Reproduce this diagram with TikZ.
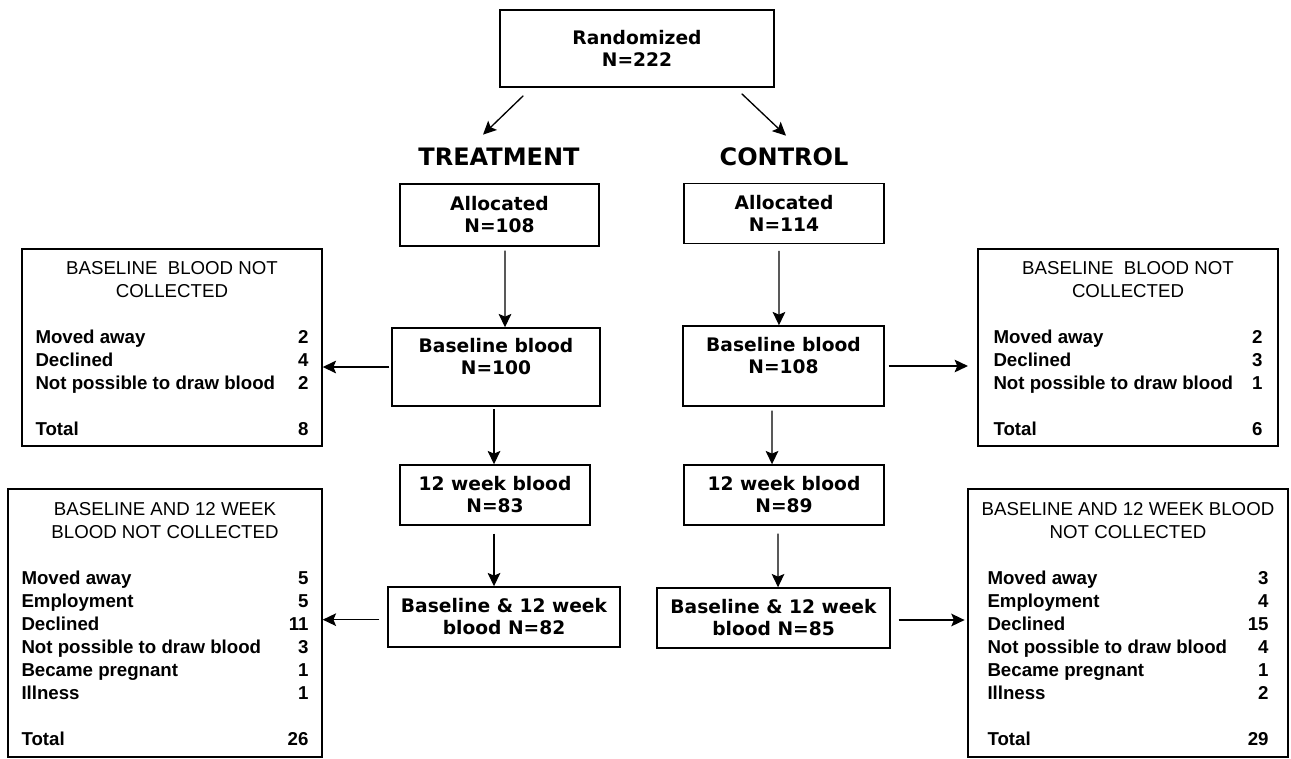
\documentclass[tikz,border=0pt]{standalone}
\usepackage{fontspec}
\setmainfont{Liberation Sans}
\newfontfamily\verdana{DejaVu Sans}
\usetikzlibrary{arrows.meta}

\tikzset{
  box/.style={draw, line width=1.1pt, align=center, inner sep=0pt,
    font=\verdana\bfseries\fontsize{14}{16.5}\selectfont},
  armhead/.style={inner sep=0pt, font=\verdana\bfseries\fontsize{18}{21}\selectfont},
  lossbox/.style={draw, line width=1.1pt, inner sep=0pt,
    font=\bfseries\fontsize{14}{17.25}\selectfont},
  arr/.style={line width=1pt, -{Stealth[length=10pt,width=9.5pt,inset=2pt]}}
}
\newcommand{\firstrow}{\rule{0pt}{16.6pt}}

\begin{document}
\begin{tikzpicture}[x=0.75pt, y=-0.75pt]
    \useasboundingbox (0,0) rectangle (1291,758);

    % Randomization
    \node[box, minimum width=205.5pt, minimum height=57.75pt] (rand) at (637,48.5) {Randomized\\N=222};
    \node[armhead] (tHead) at (499,157) {TREATMENT};
    \node[armhead] (cHead) at (784,157) {CONTROL};
    \draw[arr] ([xshift=18pt,yshift=-6pt]rand.south west) -- ([xshift=-12pt,yshift=10pt]tHead.north);
    \draw[arr] ([xshift=-24.75pt,yshift=-4.5pt]rand.south east) -- ([xshift=1.5pt,yshift=9pt]cHead.north);

    % Treatment arm
    \node[box, minimum width=149.25pt, minimum height=46.5pt] (tAlloc) at (499.5,215) {Allocated\\N=108};
    \node[box, minimum width=156pt, minimum height=58.5pt] (tBase) at (496,367) {Baseline blood\\N=100\\[-5pt]\strut};
    \node[box, minimum width=142.5pt, minimum height=45pt] (tWeek) at (495,495) {12 week blood\\N=83};
    \node[box, minimum width=174pt, minimum height=45pt] (tBoth) at (504,617) {Baseline \& 12 week\\blood N=82};

    % Control arm
    \node[box, minimum width=150pt, minimum height=45pt] (cAlloc) at (784,213.5) {Allocated\\N=114};
    \node[box, minimum width=150.75pt, minimum height=60pt] (cBase) at (783.5,366) {Baseline blood\\N=108\\[-5pt]\strut};
    \node[box, minimum width=150pt, minimum height=45pt] (cWeek) at (784,495) {12 week blood\\N=89};
    \node[box, minimum width=174.75pt, minimum height=45pt] (cBoth) at (773.5,618) {Baseline \& 12 week\\blood N=85};

    % Samples not collected
    \node[lossbox, minimum width=225pt, minimum height=147.75pt] (tMissBase) at (172,347.5) {%
        \begin{tabular*}{204.75pt}{@{}l@{\extracolsep{\fill}}r@{}}
        \multicolumn{2}{@{}c@{}}{\firstrow\mdseries BASELINE \ BLOOD NOT}\\
        \multicolumn{2}{@{}c@{}}{\mdseries COLLECTED}\\
        & \\
        Moved away & 2\\
        Declined & 4\\
        Not possible to draw blood & 2\\
        & \\
        Total & 8
        \end{tabular*}};
    \node[lossbox, minimum width=225pt, minimum height=147.75pt] (cMissBase) at (1128,347.5) {%
        \begin{tabular*}{201.75pt}{@{}l@{\extracolsep{\fill}}r@{}}
        \multicolumn{2}{@{}c@{}}{\firstrow\mdseries BASELINE \ BLOOD NOT}\\
        \multicolumn{2}{@{}c@{}}{\mdseries COLLECTED}\\
        & \\
        Moved away & 2\\
        Declined & 3\\
        Not possible to draw blood & 1\\
        & \\
        Total & 6
        \end{tabular*}};
    \node[lossbox, minimum width=235.5pt, minimum height=201pt] (tMissBoth) at (165,623) {%
        \begin{tabular*}{215.25pt}{@{}l@{\extracolsep{\fill}}r@{}}
        \multicolumn{2}{@{}c@{}}{\firstrow\makebox[0pt]{\mdseries BASELINE AND 12 WEEK}}\\
        \multicolumn{2}{@{}c@{}}{\makebox[0pt]{\mdseries BLOOD NOT COLLECTED}}\\
        & \\
        Moved away & 5\\
        Employment & 5\\
        Declined & 11\\
        Not possible to draw blood & 3\\
        Became pregnant & 1\\
        Illness & 1\\
        & \\
        Total & 26
        \end{tabular*}};
    \node[lossbox, minimum width=240pt, minimum height=201pt] (cMissBoth) at (1128,623) {%
        \begin{tabular*}{210.75pt}{@{}l@{\extracolsep{\fill}}r@{}}
        \multicolumn{2}{@{}c@{}}{\firstrow\makebox[0pt]{\mdseries BASELINE AND 12 WEEK BLOOD}}\\
        \multicolumn{2}{@{}c@{}}{\makebox[0pt]{\mdseries NOT COLLECTED}}\\
        & \\
        Moved away & 3\\
        Employment & 4\\
        Declined & 15\\
        Not possible to draw blood & 4\\
        Became pregnant & 1\\
        Illness & 2\\
        & \\
        Total & 29
        \end{tabular*}};

    % Flow arrows
    \draw[arr] ([xshift=4.1pt,yshift=-3pt]tAlloc.south) -- ([xshift=6.75pt]tBase.north);
    \draw[arr] ([xshift=-1.5pt,yshift=-2pt]tBase.south) -- ([xshift=-0.75pt]tWeek.north);
    \draw[arr] ([xshift=-0.75pt,yshift=-6pt]tWeek.south) -- ([xshift=-7.5pt]tBoth.north);
    \draw[arr] ([xshift=-3.75pt,yshift=-4.9pt]cAlloc.south) -- ([xshift=-3.4pt]cBase.north);
    \draw[arr] ([xshift=-8.6pt,yshift=-3pt]cBase.south) -- ([xshift=-9pt]cWeek.north);
    \draw[arr] ([xshift=-4.5pt,yshift=-6pt]cWeek.south) -- ([xshift=3.4pt]cBoth.north);

    % Losses
    \draw[arr, shorten <=1.5pt] (tBase.west) -- (tBase.west -| tMissBase.east);
    \draw[arr, shorten <=3pt, shorten >=7pt] (cBase.east) -- (cBase.east -| cMissBase.west);
    \draw[arr, shorten <=6pt] ([yshift=-2pt]tBoth.west) -- ([yshift=-2pt]tBoth.west -| tMissBoth.east);
    \draw[arr, shorten <=6pt, shorten >=2pt] ([yshift=-1.5pt]cBoth.east) -- ([yshift=-1.5pt]cBoth.east -| cMissBoth.west);
\end{tikzpicture}
\end{document}
